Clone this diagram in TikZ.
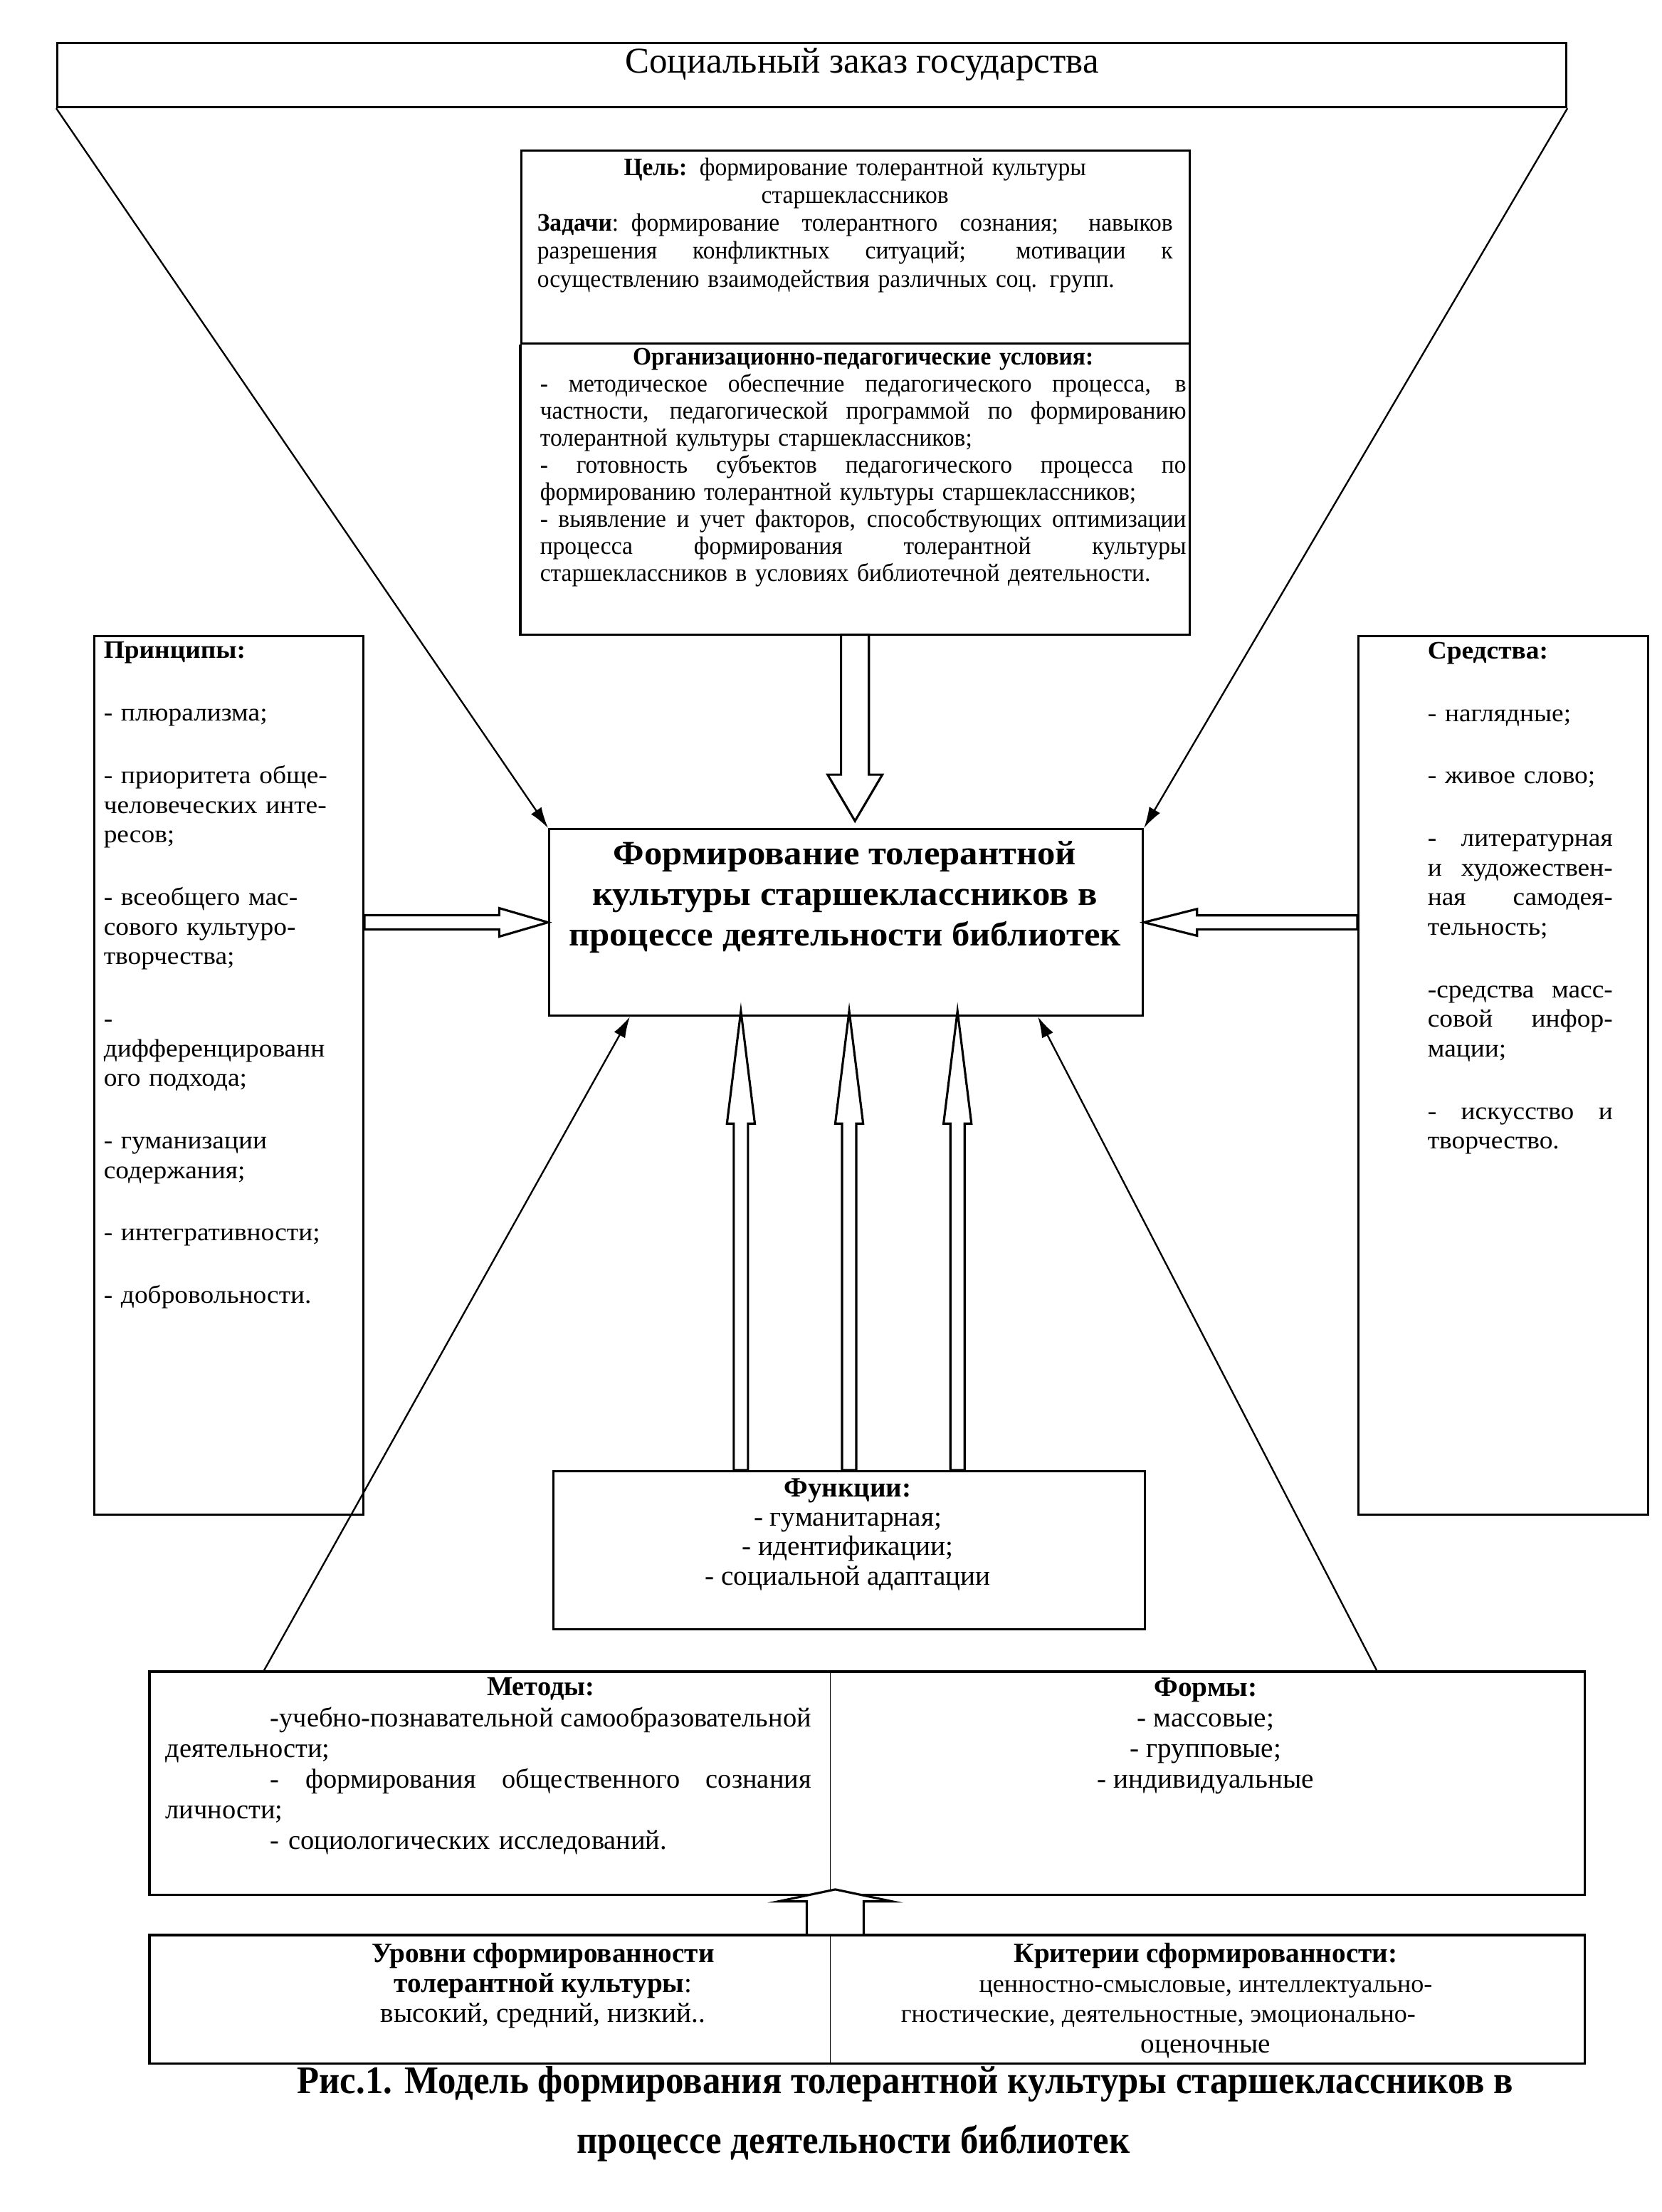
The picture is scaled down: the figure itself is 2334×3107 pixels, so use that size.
\documentclass[tikz,border=0pt]{standalone}
\usepackage{fontspec}
\setmainfont{Liberation Serif}
\newfontfamily\widefont[FakeStretch=1.06]{Liberation Serif}
\newfontfamily\condfont[FakeStretch=0.95]{Liberation Serif}
\newfontfamily\narrowfont[FakeStretch=0.925]{Liberation Serif}
\usetikzlibrary{arrows.meta,positioning,calc}
\setlength{\parindent}{0pt}
\newcommand{\jl}[1]{\leavevmode\hbox to \hsize{\spaceskip=.25em plus 1fil minus .1em\relax#1}}
\newcommand{\cl}[1]{\makebox[\hsize][c]{#1}}
\newcommand{\hollowarrow}[5]{%
  \path ($(#2)!#5!(#1)$) coordinate (hb);
  \draw[hollow] ($(#1)!#3!90:(#2)$) -- ($(hb)!#3!90:(#2)$) -- ($(hb)!#4!90:(#2)$) -- (#2)
    -- ($(hb)!#4!-90:(#2)$) -- ($(hb)!#3!-90:(#2)$) -- ($(#1)!#3!-90:(#2)$) -- cycle;}

\begin{document}
\begin{tikzpicture}[
  x=0.255pt, y=-0.255pt,
  frame/.style={draw, line width=0.8pt, inner sep=0pt, anchor=north west},
  cell/.style={inner sep=0pt, anchor=north west},
  txt/.style={inner sep=0pt, align=left, anchor=north west, font=\condfont\fontsize{9}{10}\selectfont},
  ctxt/.style={inner sep=0pt, align=center, anchor=north, font=\fontsize{10}{11}\selectfont},
  hollow/.style={draw, line width=0.8pt, fill=white, line join=miter},
  arr/.style={line width=0.6pt, -{Latex[length=7.5pt, width=4.5pt]}},
]
\useasboundingbox (0,0) rectangle (2334,3107);

\node[frame, minimum width=540.6pt, minimum height=22.95pt] (zakaz) at (79,59) {};
\node[frame, minimum width=239.4pt, minimum height=69.1pt] (goal) at (731,210) {};
\node[cell, minimum width=239.4pt, minimum height=103.5pt] (cond) at (goal.south west) {};
\draw[line width=0.8pt] (cond.north west) |- (cond.south east) -- (cond.north east);
\node[frame, minimum width=212.7pt, minimum height=66.8pt] (core) at (770,1163) {};
\node[frame, minimum width=96.4pt, minimum height=314.7pt] (princ) at (131,892) {};
\node[frame, minimum width=103.8pt, minimum height=314.7pt] (means) at (1907,892) {};
\node[frame, minimum width=211.9pt, minimum height=56.6pt] (func) at (776,2065) {};
\node[cell, minimum width=243.5pt, minimum height=79.6pt] (meth) at (210,2348) {};
\node[cell, minimum width=269.8pt, minimum height=79.6pt] (forms) at (meth.north east) {};
\node[cell, minimum width=243.5pt, minimum height=45.6pt] (levels) at (210,2718) {};
\node[cell, minimum width=269.8pt, minimum height=45.6pt] (crit) at (levels.north east) {};
\draw[line width=0.8pt] (meth.north west) rectangle (forms.south east);
\draw[line width=0.4pt] (meth.north east) -- (meth.south east);
\draw[line width=0.8pt] (levels.north west) rectangle (crit.south east);
\draw[line width=0.4pt] (levels.north east) -- (levels.south east);

\node[inner sep=0pt, anchor=base, font=\fontsize{13}{15}\selectfont] (zakaztxt) at (1211,102) {Социальный заказ государства};

\node[txt, text width=227.7pt] (goaltxt) at (754,221) {%
\cl{\textbf{Цель:} формирование толерантной культуры}\\
\cl{старшеклассников}\\
\jl{\textbf{Задачи}: формирование толерантного сознания; навыков}\\
\jl{разрешения конфликтных ситуаций; мотивации к}\\
осуществлению взаимодействия различных соц. групп.};

\node[txt, text width=231.5pt, font=\condfont\fontsize{9}{9.7}\selectfont] (condtxt) at (758,488) {%
\cl{\textbf{Организационно-педагогические условия:}}\\
\jl{- методическое обеспечние педагогического процесса, в}\\
\jl{частности, педагогической программой по формированию}\\
толерантной культуры старшеклассников;\\
\jl{- готовность субъектов педагогического процесса по}\\
формированию толерантной культуры старшеклассников;\\
\jl{- выявление и учет факторов, способствующих оптимизации}\\
\jl{процесса формирования толерантной культуры}\\
старшеклассников в условиях библиотечной деятельности.};

\node[ctxt, font=\widefont\bfseries\fontsize{12.2}{14.5}\selectfont] (coretxt) at (1187,1181)
  {Формирование толерантной\\культуры старшеклассников в\\процессе деятельности библиотек};

\node[txt, text width=92pt, font=\widefont\fontsize{9}{10.6}\selectfont] (princtxt) at (145,901) {%
\textbf{Принципы:}\\[11.8pt]
- плюрализма;\\[11.8pt]
- приоритета обще-\\человеческих инте-\\ресов;\\[11.8pt]
- всеобщего мас-\\сового культуро-\\творчества;\\[11.8pt]
-\\дифференцированн\\ого подхода;\\[11.8pt]
- гуманизации\\содержания;\\[11.8pt]
- интегративности;\\[11.8pt]
- добровольности.};

\node[txt, text width=66.3pt, font=\widefont\fontsize{9}{10.6}\selectfont] (meanstxt) at (2005,901) {%
\textbf{Средства:}\\[11.8pt]
- наглядные;\\[11.8pt]
- живое слово;\\[11.8pt]
\jl{- литературная}\\
\jl{и художествен-}\\
\jl{ная самодея-}\\
тельность;\\[11.8pt]
\jl{-средства масс-}\\
\jl{совой инфор-}\\
мации;\\[11.8pt]
\jl{- искусство и}\\
творчество.};

\node[ctxt, font=\fontsize{10}{10.5}\selectfont] (functxt) at (1191,2076)
  {\textbf{Функции:}\\- гуманитарная;\\- идентификации;\\- социальной адаптации};

\node[txt, text width=231.3pt, font=\fontsize{9.8}{11}\selectfont] (methtxt) at (232,2356) {%
\cl{\hspace*{37.5pt}\textbf{Методы:}}\\
\jl{\hspace*{37.5pt}-учебно-познавательной самообразовательной}\\
деятельности;\\
\jl{\hspace*{37.5pt}- формирования общественного сознания}\\
личности;\\
\hspace*{37.5pt}- социологических исследований.};

\node[ctxt] (formstxt) at (1694,2356)
  {\textbf{Формы:}\\- массовые;\\- групповые;\\- индивидуальные};

\node[ctxt, font=\fontsize{10}{10.8}\selectfont] (levelstxt) at (763,2728)
  {\textbf{Уровни сформированности}\\\textbf{толерантной культуры}:\\высокий, средний, низкий..};

\node[ctxt, font=\fontsize{10}{10.8}\selectfont] (crittxt) at (1694,2728)
  {\textbf{Критерии сформированности:}\\
   \hbox{\fontsize{9.2}{10.8}\selectfont ценностно-смысловые, интеллектуально-}\\
   \hbox{\fontsize{9.2}{10.8}\selectfont гностические, деятельностные, эмоционально-\kern34pt}\\
   оценочные};

\node[inner sep=0pt, anchor=base, font=\narrowfont\bfseries\fontsize{14}{16}\selectfont] (cap1) at (1272,2940)
  {Рис.1. Модель формирования толерантной культуры старшеклассников в};
\node[inner sep=0pt, anchor=base, font=\narrowfont\bfseries\fontsize{14}{16}\selectfont] (cap2) at (1199,3024)
  {процессе деятельности библиотек};

\draw[arr] (zakaz.south west) -- (core.north west);
\draw[arr] (zakaz.south east) -- (core.north east);
\draw[arr] ([xshift=40.8pt]meth.north west) -- ([xshift=29.3pt]core.south west);
\draw[arr] ([xshift=-74.2pt]forms.north east) -- ([xshift=-38pt]core.south east);

\coordinate (d0) at (cond.south);
\coordinate (d1) at ($(cond.south |- core.north)+(0,2.5pt)$);
\hollowarrow{d0}{d1}{5pt}{9.8pt}{16.6pt}

\coordinate (l0) at (princ.east |- core.west);
\coordinate (l1) at (core.west);
\hollowarrow{l0}{l1}{2.55pt}{5.1pt}{17.5pt}

\coordinate (r0) at (means.west |- core.east);
\coordinate (r1) at (core.east);
\hollowarrow{r0}{r1}{2.5pt}{4.8pt}{19pt}

\foreach \dx [count=\i] in {-38.8,0,38.8} {
  \coordinate (u\i0) at ([xshift=\dx pt]func.north);
  \coordinate (u\i1) at ($(u\i0 |- core.south)+(0,2pt)$);
  \hollowarrow{u\i0}{u\i1}{2.55pt}{5pt}{40.3pt}
}

\coordinate (b0) at ([xshift=1.8pt]crit.north west);
\coordinate (b1) at ($(b0 |- meth.south)+(0,2pt)$);
\hollowarrow{b0}{b1}{10.2pt}{20.4pt}{4.3pt}
\end{tikzpicture}
\end{document}
